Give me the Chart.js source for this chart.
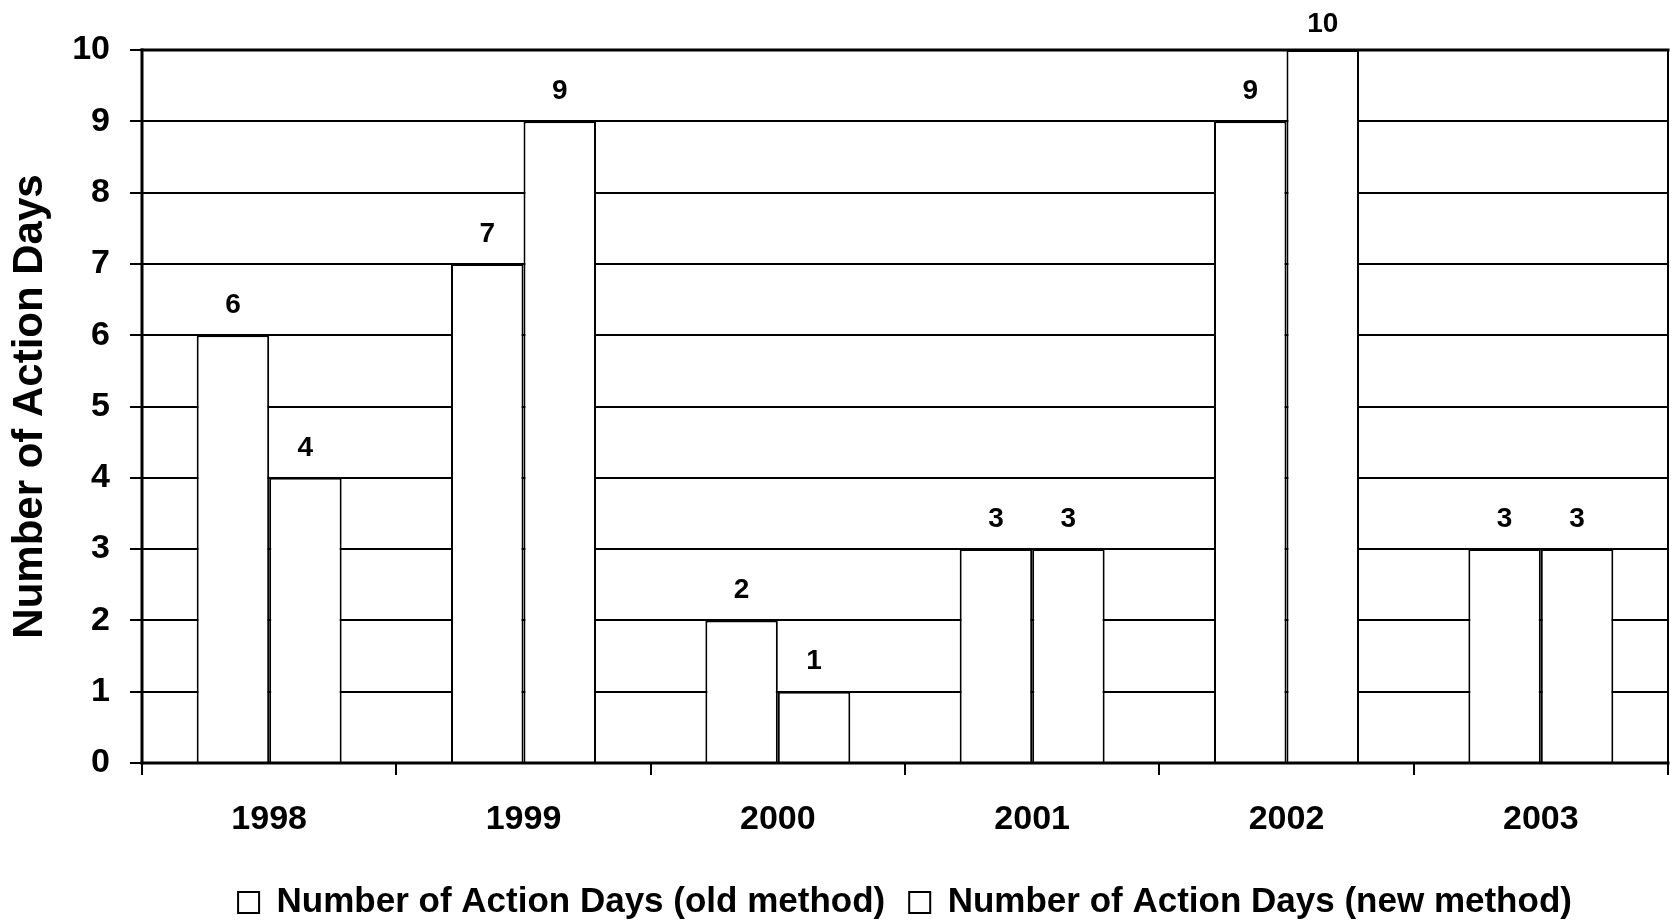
<!DOCTYPE html>
<html><head><meta charset="utf-8">
<script src="https://cdn.jsdelivr.net/npm/chart.js@4/dist/chart.umd.min.js"></script>
<style>html,body{margin:0;padding:0;overflow:hidden;background:#fff}#wrap{width:1671px;height:930px;position:relative}</style>
</head><body><div id="wrap"><canvas id="c"></canvas></div>
<script>
const categories = ['1998', '1999', '2000', '2001', '2002', '2003'];
const oldMethod = [6, 7, 2, 3, 9, 3];
const newMethod = [4, 9, 1, 3, 10, 3];
const seriesLabels = ['Number of Action Days (old method)', 'Number of Action Days (new method)'];
const yTickValues = [0, 1, 2, 3, 4, 5, 6, 7, 8, 9, 10];
const yTitle = 'Number of Action Days';

const FONT = '"Liberation Sans", Arial, sans-serif';
Chart.defaults.font.family = FONT;
Chart.defaults.color = '#000';

const valueLabels = {
  id: 'valueLabels',
  afterDatasetsDraw(chart) {
    const ctx = chart.ctx;
    ctx.save();
    ctx.font = 'bold 28px ' + FONT;
    ctx.fillStyle = '#000';
    ctx.textAlign = 'center';
    ctx.textBaseline = 'middle';
    chart.data.datasets.forEach((ds, di) => {
      const meta = chart.getDatasetMeta(di);
      meta.data.forEach((el, i) => {
        const y = Math.max(el.y - 30, 24);
        ctx.fillText(String(ds.data[i]), el.x, y);
      });
    });
    ctx.restore();
  }
};

const frame = {
  id: 'frame',
  afterDatasetsDraw(chart) {
    const {left, top, right, bottom} = chart.chartArea;
    const ctx = chart.ctx;
    ctx.save();
    ctx.strokeStyle = '#000';
    ctx.lineCap = 'square';
    ctx.lineWidth = 2;
    ctx.beginPath(); ctx.moveTo(right, top); ctx.lineTo(right, bottom); ctx.stroke();
    ctx.lineWidth = 3;
    ctx.beginPath(); ctx.moveTo(left, top); ctx.lineTo(right, top); ctx.stroke();
    ctx.beginPath(); ctx.moveTo(left, top); ctx.lineTo(left, bottom); ctx.stroke();
    ctx.beginPath(); ctx.moveTo(left, bottom); ctx.lineTo(right, bottom); ctx.stroke();
    ctx.restore();
  }
};

new Chart(document.getElementById('c'), {
  type: 'bar',
  data: {
    labels: categories,
    datasets: [
      { label: seriesLabels[0], data: oldMethod, backgroundColor: '#fff', borderColor: '#000', borderWidth: 2 },
      { label: seriesLabels[1], data: newMethod, backgroundColor: '#fff', borderColor: '#000', borderWidth: 2 }
    ]
  },
  options: {
    responsive: true,
    maintainAspectRatio: false,
    animation: false,
    datasets: { bar: { categoryPercentage: 0.57, barPercentage: 1.0 } },
    layout: { padding: { top: 50, right: 3, left: 0, bottom: 0 } },
    plugins: {
      legend: {
        position: 'bottom',
        fullSize: false,
        labels: {
          font: { size: 35, weight: 'bold' },
          color: '#000',
          boxWidth: 21,
          boxHeight: 21,
          padding: 24
        }
      },
      tooltip: { enabled: false }
    },
    scales: {
      x: {
        grid: { drawOnChartArea: false, drawTicks: true, tickLength: 12, color: '#000', lineWidth: 2, offset: true },
        border: { display: false },
        ticks: { font: { size: 34, weight: 'bold' }, color: '#000', padding: 24, autoSkip: false, maxRotation: 0 },
        afterFit(scale) { scale.height = 98; }
      },
      y: {
        min: 0,
        max: 10,
        afterBuildTicks(scale) { scale.ticks = yTickValues.map(v => ({ value: v })); },
        grid: { color: '#000', lineWidth: 2, drawTicks: true, tickLength: 12 },
        border: { display: false },
        ticks: { font: { size: 34, weight: 'bold' }, color: '#000', padding: 20 },
        title: { display: true, text: yTitle, font: { size: 42, weight: 'bold' }, color: '#000', padding: { top: 5, bottom: 0 } },
        afterFit(scale) { scale.width = 142; }
      }
    }
  },
  plugins: [valueLabels, frame]
});
</script>
</body></html>
